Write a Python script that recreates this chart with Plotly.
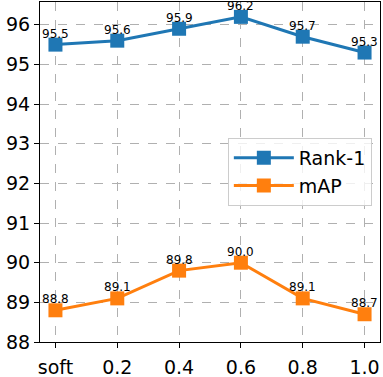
import plotly.graph_objects as go

# data
categories = ['soft', '0.2', '0.4', '0.6', '0.8', '1.0']
rank1 = [95.5, 95.6, 95.9, 96.2, 95.7, 95.3]
mAP = [88.8, 89.1, 89.8, 90.0, 89.1, 88.7]

x_idx = list(range(len(categories)))

fig = go.Figure()

for name, vals, color in [('Rank-1', rank1, '#1f77b4'), ('mAP', mAP, '#ff7f0e')]:
    fig.add_trace(go.Scatter(
        x=x_idx,
        y=vals,
        name=name,
        mode='lines+markers',
        line=dict(color=color, width=3),
        marker=dict(symbol='square', size=14, color=color),
        cliponaxis=False,
    ))
    # value labels above the points
    for xi, v in zip(x_idx, vals):
        fig.add_annotation(
            x=xi, y=v + 0.15, text=f'{v:.1f}',
            showarrow=False, yanchor='bottom', yshift=-4,
            font=dict(size=12, color='black', family='DejaVu Sans'),
        )

fig.update_layout(
    width=383,
    height=377,
    margin=dict(l=40, r=3, t=2, b=35),
    plot_bgcolor='white',
    paper_bgcolor='white',
    font=dict(family='DejaVu Sans', color='black'),
    showlegend=True,
    legend=dict(
        x=0.976, y=0.5, xanchor='right', yanchor='middle',
        bgcolor='rgba(255,255,255,0.8)', bordercolor='#cccccc', borderwidth=1,
        font=dict(size=19), itemwidth=60, tracegroupgap=0,
    ),
    xaxis=dict(
        range=[-0.25, 5.25],
        tickvals=x_idx,
        ticktext=categories,
        tickfont=dict(size=19),
        ticklabelstandoff=3,
        automargin=False,
        showline=True, linecolor='black', linewidth=1, mirror=True,
        ticks='outside', ticklen=5, tickcolor='black',
        showgrid=True, gridcolor='#b0b0b0', griddash='dash', gridwidth=1,
        zeroline=False,
    ),
    yaxis=dict(
        range=[88, 96.575],
        tickvals=list(range(88, 97)),
        tickfont=dict(size=19),
        automargin=False,
        showline=True, linecolor='black', linewidth=1, mirror=True,
        ticks='outside', ticklen=5, tickcolor='black',
        showgrid=True, gridcolor='#b0b0b0', griddash='dash', gridwidth=1,
        zeroline=False,
    ),
)

# drop the default page margin so the figure sits at the window corner
fig.write_html("out.html", config={'displayModeBar': False},
               post_script="document.body.style.margin='0';")
